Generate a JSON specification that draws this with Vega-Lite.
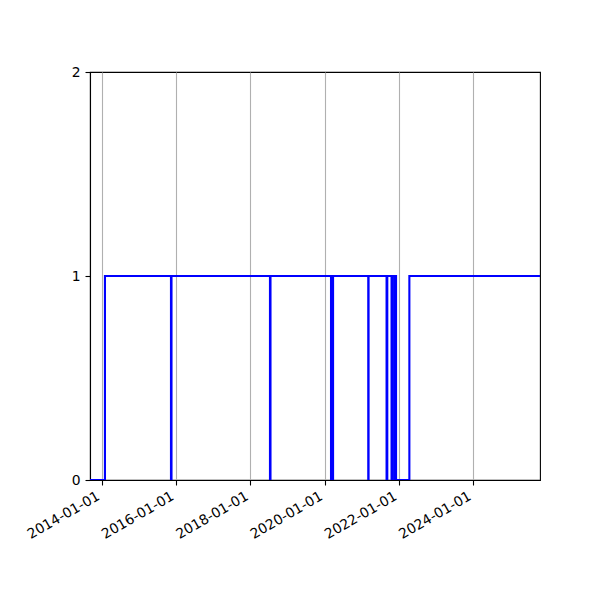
{
  "$schema": "https://vega.github.io/schema/vega-lite/v6.json",
  "autosize": "none",
  "width": 450,
  "height": 408,
  "padding": {"left": 90, "top": 72, "right": 60, "bottom": 120},
  "background": "white",
  "config": {
    "font": "DejaVu Sans",
    "view": {"stroke": "black", "strokeWidth": 1.1},
    "axis": {
      "labelFont": "DejaVu Sans",
      "labelFontSize": 13.9,
      "labelColor": "black",
      "tickColor": "black",
      "tickSize": 5,
      "tickWidth": 1.1,
      "domainColor": "black",
      "domainWidth": 1.1,
      "labelPadding": 4,
      "title": null
    }
  },
  "data": {
    "values": [
      {"date": "2013-09-08", "value": 0},
      {"date": "2014-02-02", "value": 1},
      {"date": "2015-11-13", "value": 0},
      {"date": "2015-11-18", "value": 1},
      {"date": "2018-07-13", "value": 0},
      {"date": "2018-07-18", "value": 1},
      {"date": "2020-03-04", "value": 0},
      {"date": "2020-03-24", "value": 1},
      {"date": "2021-03-05", "value": 0},
      {"date": "2021-03-08", "value": 1},
      {"date": "2021-09-01", "value": 0},
      {"date": "2021-09-08", "value": 1},
      {"date": "2021-10-20", "value": 0},
      {"date": "2021-10-26", "value": 1},
      {"date": "2021-11-16", "value": 0},
      {"date": "2021-11-21", "value": 1},
      {"date": "2021-12-03", "value": 0},
      {"date": "2022-04-13", "value": 1},
      {"date": "2025-10-18", "value": 1}
    ]
  },
  "mark": {"type": "line", "interpolate": "step-after", "color": "#0000ff", "strokeWidth": 2.1, "clip": true},
  "encoding": {
    "x": {
      "field": "date",
      "type": "temporal",
      "scale": {
        "type": "utc",
        "nice": false,
        "domain": [
          {"year": 2013, "month": 9, "date": 8, "utc": true},
          {"year": 2025, "month": 10, "date": 18, "utc": true}
        ]
      },
      "axis": {
        "values": [
          {"year": 2014, "month": 1, "date": 1, "utc": true},
          {"year": 2016, "month": 1, "date": 1, "utc": true},
          {"year": 2018, "month": 1, "date": 1, "utc": true},
          {"year": 2020, "month": 1, "date": 1, "utc": true},
          {"year": 2022, "month": 1, "date": 1, "utc": true},
          {"year": 2024, "month": 1, "date": 1, "utc": true}
        ],
        "labelExpr": "utcFormat(datum.value, '%Y-%m-%d')",
        "labelAngle": -30,
        "labelAlign": "right",
        "labelBaseline": "bottom",
        "labelPadding": 16,
        "labelOverlap": false,
        "labelFlush": false,
        "grid": true,
        "gridColor": "#b0b0b0",
        "gridWidth": 1.1
      }
    },
    "y": {
      "field": "value",
      "type": "quantitative",
      "scale": {"domain": [0, 2], "nice": false},
      "axis": {
        "values": [0, 1, 2],
        "labelExpr": "format(datum.value, 'd')",
        "labelOverlap": false,
        "grid": false,
        "labelPadding": 5
      }
    }
  }
}
